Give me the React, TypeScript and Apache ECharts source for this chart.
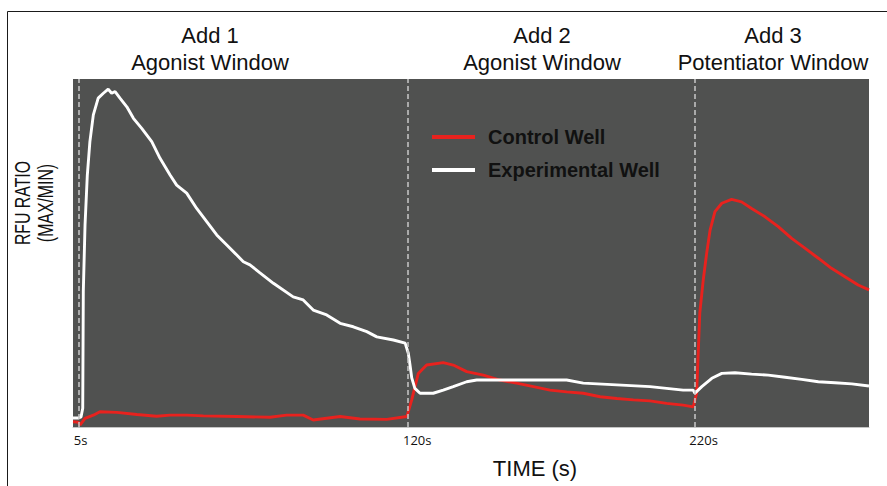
import React, { useEffect, useRef } from "react";
import * as echarts from "echarts";

// Time (s) and RFU ratio (relative units, 0–100 of plot height)
const controlTime = [3, 4.8, 5.5, 7.2, 10.1, 12.4, 18.3, 25.3, 32.2, 36.9, 42.7, 48.5, 60.2, 71.8, 77.6, 83.4, 86.9, 96.3, 103.2, 112.6, 119.6, 121.3, 123.6, 126.5, 132.3, 135.8, 140.5, 146.3, 152.1, 157.9, 163.8, 169.6, 175.4, 181.2, 187.1, 192.9, 198.7, 204.5, 210.3, 216.1, 219.6, 220.8, 221.9, 223.1, 224.3, 225.5, 227.2, 229.6, 233.0, 236.5, 240.0, 244.7, 249.3, 254.0, 258.6, 263.3, 267.9, 272.6, 277.2, 281];
const controlRfu = [1.5, 1.4, 0.6, 2.5, 3.4, 4.4, 4.2, 3.6, 3.1, 3.4, 3.4, 3.2, 3.0, 2.8, 3.4, 3.4, 2.0, 3.0, 2.3, 2.2, 3.0, 7.8, 15.4, 17.8, 18.5, 17.8, 15.9, 14.9, 13.5, 12.6, 11.6, 10.6, 10.1, 9.7, 8.7, 8.2, 7.8, 7.5, 6.8, 6.3, 5.8, 9.7, 32.7, 42.2, 49.9, 56.6, 61.9, 64.3, 65.4, 64.7, 62.8, 60.4, 57.6, 54.2, 51.4, 48.5, 45.6, 43.2, 40.8, 39.4];

const experimentalTime = [3, 5, 5.8, 6.4, 6.6, 7.2, 8.0, 8.9, 10.1, 11.8, 13.6, 15.3, 16.5, 17.7, 19.4, 21.8, 24.1, 27.0, 30.5, 33.4, 36.9, 39.2, 42.7, 46.2, 49.7, 53.2, 56.7, 60.2, 62.5, 64.8, 68.3, 73.0, 79.9, 83.4, 86.9, 91.6, 96.3, 100.9, 105.6, 109.1, 114.9, 119.0, 120.1, 120.7, 121.3, 122.4, 124.2, 128.8, 132.3, 135.8, 140.5, 144.0, 152.1, 163.8, 175.4, 181.2, 192.9, 204.5, 216.1, 219.6, 220.2, 222.6, 226.1, 229.6, 234.2, 240.0, 245.8, 251.7, 257.5, 263.3, 269.1, 275.0, 281];
const experimentalRfu = [2.6, 2.6, 2.9, 5.4, 38.9, 58.0, 72.4, 82.0, 89.7, 94.5, 95.9, 97.1, 95.9, 96.4, 94.5, 92.0, 88.7, 85.8, 82.0, 77.2, 72.4, 69.5, 67.2, 62.8, 59.0, 55.2, 52.3, 49.4, 47.5, 46.6, 44.3, 41.3, 37.4, 36.5, 33.6, 32.2, 29.8, 28.8, 27.4, 25.9, 25.0, 24.1, 21.2, 17.8, 14.1, 11.1, 9.7, 9.7, 10.6, 11.6, 13.0, 13.5, 13.5, 13.5, 13.5, 12.6, 12.1, 11.6, 10.6, 10.6, 9.7, 11.6, 14.0, 15.4, 15.6, 15.2, 14.9, 14.3, 13.7, 13.0, 12.7, 12.4, 11.8];

const additionTimes = [5, 120, 220];
const windowTitles = ["Add 1\nAgonist Window", "Add 2\nAgonist Window", "Add 3\nPotentiator Window"];
const seriesNames = ["Control Well", "Experimental Well"];

const zip = (xs: number[], ys: number[]) => xs.map((x, i) => [x, ys[i]]);

export default function App() {
  const ref = useRef<HTMLDivElement>(null);
  useEffect(() => {
    if (!ref.current) return;
    const chart = echarts.init(ref.current, null, { renderer: "svg" });
    const titleX = [210, 542, 773];
    chart.setOption({
      animation: false,
      backgroundColor: "#ffffff",
      grid: {
        left: 73,
        right: 18,
        top: 79,
        bottom: 59,
        show: true,
        backgroundColor: "#505150",
        borderWidth: 0,
      },
      legend: {
        data: seriesNames,
        orient: "vertical",
        left: 432,
        top: 127,
        padding: 0,
        itemGap: 13,
        itemWidth: 43,
        itemHeight: 4,
        icon: "rect",
        textStyle: {
          fontFamily: "Liberation Sans",
          fontWeight: "bold",
          fontSize: 20,
          color: "#111111",
          padding: [0, 0, 0, 8],
        },
      },
      xAxis: {
        type: "value",
        min: 3,
        max: 281,
        splitLine: { show: false },
        axisTick: { show: false },
        axisLine: { show: true, lineStyle: { color: "#c4c4c4", width: 1 } },
        axisLabel: {
          customValues: additionTimes,
          formatter: (v: number) => `${v}s`,
          fontFamily: "Open Sans",
          fontSize: 13,
          color: "#111111",
          align: "left",
          padding: [0, 0, 0, -5],
          margin: 6,
        },
      },
      yAxis: {
        type: "value",
        min: 0,
        max: 100,
        show: false,
        splitLine: { show: false },
      },
      graphic: [
        {
          type: "line",
          shape: { x1: 7.5, y1: 11.5, x2: 887, y2: 11.5 },
          style: { stroke: "#1a1a1a", lineWidth: 1 },
        },
        {
          type: "line",
          shape: { x1: 7.5, y1: 11.5, x2: 7.5, y2: 486 },
          style: { stroke: "#1a1a1a", lineWidth: 1 },
        },
        ...windowTitles.map((t, i) => ({
          type: "text",
          x: titleX[i],
          y: 49,
          style: {
            text: t,
            align: "center",
            verticalAlign: "middle",
            fontFamily: "Liberation Sans",
            fontSize: 22,
            lineHeight: 26.5,
            fill: "#111111",
          },
        })),
        {
          type: "text",
          x: 34,
          y: 203,
          rotation: Math.PI / 2,
          scaleX: 0.72,
          style: {
            text: "RFU RATIO\n(MAX/MIN)",
            align: "center",
            verticalAlign: "middle",
            fontFamily: "Liberation Sans",
            fontSize: 22,
            lineHeight: 23,
            fill: "#111111",
          },
        },
        {
          type: "text",
          x: 535,
          y: 468,
          style: {
            text: "TIME (s)",
            align: "center",
            verticalAlign: "middle",
            fontFamily: "Liberation Sans",
            fontSize: 22,
            fill: "#111111",
          },
        },
      ],
      series: [
        {
          name: seriesNames[0],
          type: "line",
          data: zip(controlTime, controlRfu),
          showSymbol: false,
          color: "#e8221e",
          lineStyle: { color: "#e8221e", width: 2.9 },
          markLine: {
            silent: true,
            symbol: "none",
            label: { show: false },
            lineStyle: { color: "#c8c8c8", type: [5, 3], width: 1.5 },
            data: additionTimes.map((t) => ({ xAxis: t })),
          },
        },
        {
          name: seriesNames[1],
          type: "line",
          data: zip(experimentalTime, experimentalRfu),
          showSymbol: false,
          color: "#ffffff",
          lineStyle: { color: "#ffffff", width: 2.9 },
        },
      ],
    });
    return () => chart.dispose();
  }, []);
  return (
    <div
      ref={ref}
      style={{ position: "fixed", left: 0, top: 0, width: 887, height: 486, background: "#fff" }}
    />
  );
}
